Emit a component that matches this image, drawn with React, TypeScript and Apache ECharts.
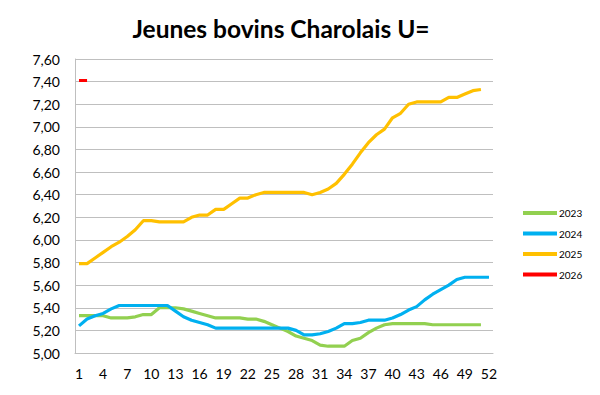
import React, { useEffect, useRef } from "react";
import * as echarts from "echarts";

const weeks: string[] = Array.from({ length: 52 }, (_, i) => String(i + 1));

const y2023: number[] = [
  5.33, 5.33, 5.33, 5.33, 5.31, 5.31, 5.31, 5.32, 5.34, 5.34,
  5.40, 5.40, 5.40, 5.39, 5.37, 5.35, 5.33, 5.31, 5.31, 5.31,
  5.31, 5.30, 5.30, 5.28, 5.25, 5.22, 5.19, 5.15, 5.13, 5.11,
  5.07, 5.06, 5.06, 5.06, 5.11, 5.13, 5.18, 5.22, 5.25, 5.26,
  5.26, 5.26, 5.26, 5.26, 5.25, 5.25, 5.25, 5.25, 5.25, 5.25,
  5.25,
];

const y2024: number[] = [
  5.24, 5.30, 5.33, 5.35, 5.39, 5.42, 5.42, 5.42, 5.42, 5.42,
  5.42, 5.42, 5.37, 5.32, 5.29, 5.27, 5.25, 5.22, 5.22, 5.22,
  5.22, 5.22, 5.22, 5.22, 5.22, 5.22, 5.22, 5.20, 5.16, 5.16,
  5.17, 5.19, 5.22, 5.26, 5.26, 5.27, 5.29, 5.29, 5.29, 5.31,
  5.34, 5.38, 5.41, 5.47, 5.52, 5.56, 5.60, 5.65, 5.67, 5.67,
  5.67, 5.67,
];

const y2025: number[] = [
  5.79, 5.79, 5.84, 5.89, 5.94, 5.98, 6.03, 6.09, 6.17, 6.17,
  6.16, 6.16, 6.16, 6.16, 6.20, 6.22, 6.22, 6.27, 6.27, 6.32,
  6.37, 6.37, 6.40, 6.42, 6.42, 6.42, 6.42, 6.42, 6.42, 6.40,
  6.42, 6.45, 6.50, 6.58, 6.67, 6.77, 6.86, 6.93, 6.98, 7.08,
  7.12, 7.20, 7.22, 7.22, 7.22, 7.22, 7.26, 7.26, 7.29, 7.32,
  7.33,
];

const y2026: number[] = [7.41, 7.41];

const seriesNames: string[] = ["2023", "2024", "2025", "2026"];
const seriesColors: string[] = ["#92d050", "#00b0f0", "#ffc000", "#ff0000"];

export default function App() {
  const ref = useRef<HTMLDivElement>(null);

  useEffect(() => {
    if (!ref.current) return;
    const chart = echarts.init(ref.current, undefined, { renderer: "svg" });
    const datasets = [y2023, y2024, y2025, y2026];
    chart.setOption({
      animation: false,
      backgroundColor: "#ffffff",
      textStyle: { fontFamily: "Lato, 'Open Sans', sans-serif" },
      title: {
        text: "Jeunes bovins Charolais U=",
        left: 276,
        top: 11,
        textAlign: "center",
        textStyle: {
          fontFamily: "Lato, 'Open Sans', sans-serif",
          fontWeight: "bold",
          fontSize: 24.5,
          color: "#000000",
        },
      },
      legend: {
        orient: "vertical",
        left: 518,
        top: 203,
        itemWidth: 34,
        itemHeight: 4,
        itemGap: 10.5,
        icon: "rect",
        data: seriesNames,
        textStyle: { fontSize: 10, color: "#000000", padding: [0, 0, 0, -3] },
      },
      grid: { left: 75, right: 107, top: 59, bottom: 42, containLabel: false },
      xAxis: {
        type: "category",
        data: weeks,
        boundaryGap: true,
        axisLine: { lineStyle: { color: "#bfbfbf", width: 1 } },
        axisTick: { show: false },
        axisLabel: {
          interval: 2,
          fontSize: 14,
          color: "#000000",
          margin: 13,
        },
      },
      yAxis: {
        type: "value",
        min: 5,
        max: 7.6,
        interval: 0.2,
        axisLine: { show: true, lineStyle: { color: "#bfbfbf", width: 1 } },
        axisTick: { show: false },
        splitLine: { lineStyle: { color: "#bfbfbf", width: 1 } },
        axisLabel: {
          fontSize: 14,
          color: "#000000",
          margin: 15,
          formatter: (v: number) => v.toFixed(2).replace(".", ","),
        },
      },
      series: datasets.map((d, i) => ({
        name: seriesNames[i],
        type: "line",
        data: d,
        symbol: "none",
        smooth: false,
        color: seriesColors[i],
        lineStyle: { width: 3.2, color: seriesColors[i] },
      })),
    });
    return () => chart.dispose();
  }, []);

  return (
    <div
      ref={ref}
      style={{ position: "fixed", left: 0, top: 0, width: 600, height: 395 }}
    />
  );
}
